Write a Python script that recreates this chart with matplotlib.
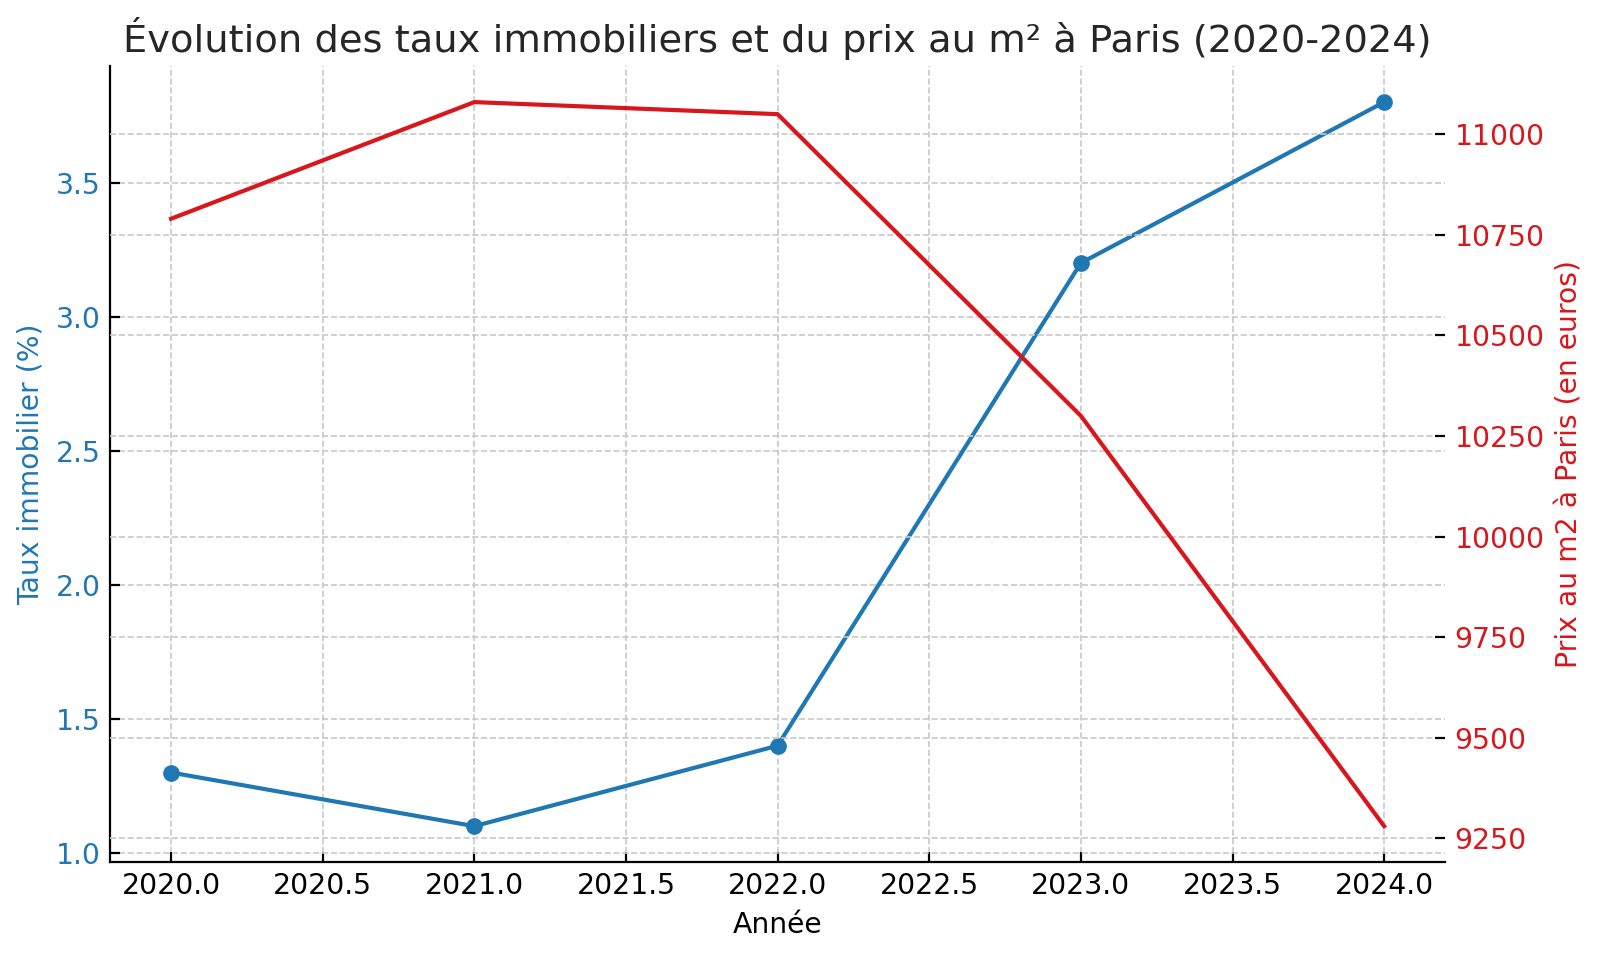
import matplotlib.pyplot as plt

annees = [2020, 2021, 2022, 2023, 2024]
taux = [1.3, 1.1, 1.4, 3.2, 3.8]
prix_m2 = [10790, 11080, 11050, 10300, 9280]

bleu = '#1f77b4'
rouge = '#d8161b'

plt.rcParams['font.family'] = ['DejaVu Sans']
plt.rcParams['xtick.direction'] = 'in'
plt.rcParams['ytick.direction'] = 'in'

fig = plt.figure(figsize=(8, 4.775), dpi=200)
ax1 = fig.add_axes([0.069, 0.097, 0.834, 0.834])

ax1.plot(annees, taux, color=bleu, marker='o', markersize=5, linewidth=1.5)
ax1.set_xlabel('Année', fontsize=10.2)
ax1.set_ylabel('Taux immobilier (%)', color=bleu, fontsize=10.2)
ax1.tick_params(axis='both', labelsize=10.2)
ax1.tick_params(axis='y', labelcolor=bleu)
ax1.grid(True, linestyle='--', color='#c8c8c8', linewidth=0.6)
ax1.spines['top'].set_visible(False)
ax1.spines['right'].set_visible(False)

ax2 = ax1.twinx()
ax2.plot(annees, prix_m2, color=rouge, linewidth=1.5)
ax2.set_ylabel('Prix au m2 à Paris (en euros)', color=rouge, fontsize=10.2)
ax2.tick_params(axis='y', labelcolor=rouge, labelsize=10.2)
ax2.grid(True, linestyle='--', color='#c8c8c8', linewidth=0.6)
for s in ['top', 'right', 'left', 'bottom']:
    ax2.spines[s].set_visible(False)

ax1.set_title('Évolution des taux immobiliers et du prix au m² à Paris (2020-2024)',
              fontsize=13.8, color='#262626', pad=5)

fig.savefig('out.png', dpi=200)
